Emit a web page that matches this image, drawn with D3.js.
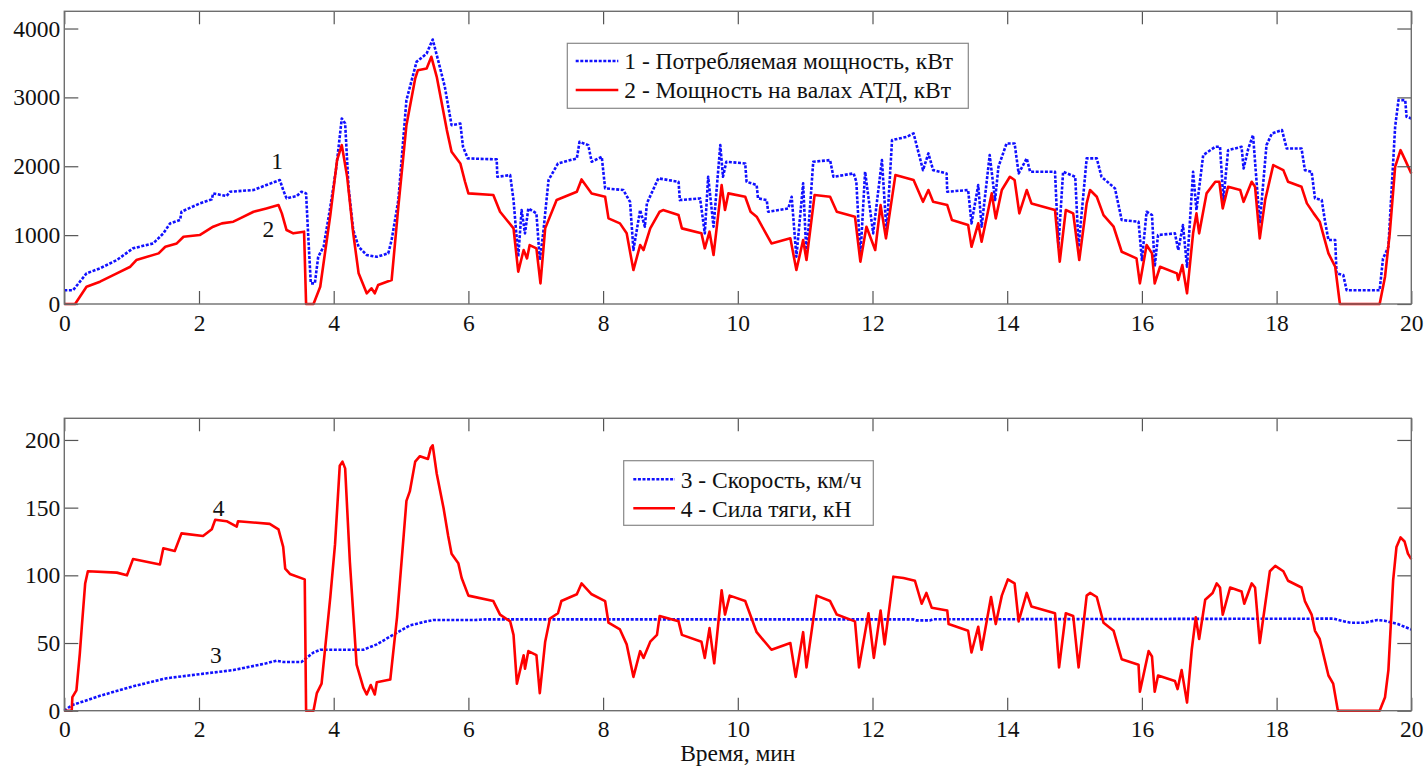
<!DOCTYPE html>
<html>
<head>
<meta charset="utf-8">
<script src="https://cdn.jsdelivr.net/npm/d3@7"></script>
<style>
  html, body { margin: 0; padding: 0; background: #fff; }
  svg { display: block; }
  text { font-family: "Liberation Serif", "Times New Roman", Tinos, "DejaVu Serif", serif; fill: #111; }
</style>
</head>
<body>
<script>
'use strict';

// time axis, minutes
var timeTicks = [0, 2, 4, 6, 8, 10, 12, 14, 16, 18, 20];
var powerTicks = [0, 1000, 2000, 3000, 4000];
var forceTicks = [0, 50, 100, 150, 200];

// 1 - consumed power, kW
var t1 = [0, 0.13, 0.33, 0.53, 0.78, 1.02, 1.32, 1.47, 1.57, 1.72, 1.74, 2.01, 2.19, 2.21, 2.41, 2.46, 2.81, 3.00, 3.20, 3.25, 3.30, 3.45, 3.52, 3.59, 3.62, 3.66, 3.72, 3.77, 3.85, 3.95, 4.04, 4.12, 4.17, 4.22, 4.29, 4.37, 4.49, 4.64, 4.81, 4.86, 4.96, 5.08, 5.23, 5.38, 5.47, 5.55, 5.65, 5.75, 5.88, 5.92, 5.99, 6.42, 6.43, 6.62, 6.67, 6.74, 6.79, 6.84, 6.89, 7.01, 7.06, 7.11, 7.19, 7.33, 7.61, 7.65, 7.78, 7.83, 7.98, 8.03, 8.30, 8.40, 8.45, 8.55, 8.62, 8.65, 8.82, 9.12, 9.14, 9.44, 9.51, 9.56, 9.64, 9.74, 9.78, 9.83, 10.11, 10.13, 10.28, 10.30, 10.43, 10.45, 10.75, 10.80, 10.87, 10.97, 11.02, 11.12, 11.37, 11.42, 11.72, 11.76, 11.82, 11.89, 12.01, 12.14, 12.21, 12.29, 12.51, 12.61, 12.75, 12.83, 12.90, 13.10, 13.11, 13.42, 13.47, 13.57, 13.62, 13.74, 13.82, 13.87, 13.99, 14.11, 14.17, 14.29, 14.34, 14.71, 14.76, 14.83, 15.01, 15.06, 15.18, 15.33, 15.40, 15.60, 15.70, 15.95, 16.00, 16.07, 16.15, 16.19, 16.24, 16.49, 16.54, 16.61, 16.67, 16.76, 16.81, 16.91, 17.09, 17.16, 17.21, 17.28, 17.48, 17.51, 17.58, 17.65, 17.75, 17.85, 17.93, 18.08, 18.15, 18.37, 18.42, 18.52, 18.57, 18.67, 18.72, 18.77, 18.87, 18.89, 18.99, 19.04, 19.53, 19.58, 19.66, 19.71, 19.76, 19.81, 19.91, 19.93, 20.00];
var p1 = [200, 200, 445, 518, 638, 808, 880, 1025, 1170, 1220, 1340, 1460, 1519, 1606, 1567, 1630, 1655, 1727, 1800, 1655, 1534, 1567, 1630, 1606, 1026, 300, 300, 686, 831, 1412, 1992, 2694, 2622, 1702, 1074, 831, 711, 686, 735, 929, 1509, 2960, 3516, 3637, 3840, 3540, 3153, 2597, 2620, 2282, 2114, 2100, 1847, 1872, 1509, 686, 1364, 1025, 1388, 1316, 638, 1025, 1800, 2041, 2114, 2355, 2307, 2065, 2137, 1679, 1655, 1484, 784, 1364, 1122, 1461, 1824, 1775, 1509, 1533, 1026, 1847, 1122, 2307, 1847, 2065, 2041, 1775, 1727, 1534, 1509, 1340, 1388, 1557, 686, 1751, 686, 2065, 2090, 1847, 1896, 1775, 686, 1920, 1026, 2089, 1026, 2380, 2428, 2477, 1944, 2186, 1944, 1896, 1630, 1655, 1171, 1727, 1122, 2162, 1509, 1992, 2331, 2331, 1896, 2114, 1920, 1920, 831, 1920, 1847, 831, 2114, 2114, 1847, 1679, 1219, 1195, 638, 1340, 1292, 541, 1001, 1026, 784, 1146, 541, 1920, 1364, 2162, 2283, 2283, 1509, 2234, 2283, 1968, 2258, 2452, 1171, 2307, 2476, 2525, 2258, 2258, 1944, 1920, 1534, 1509, 1195, 929, 929, 444, 420, 200, 200, 660, 831, 1702, 2573, 2960, 2960, 2718, 2694];

// 2 - shaft power of traction motors, kW
var t2 = [0, 0.16, 0.33, 0.53, 0.78, 0.98, 1.07, 1.40, 1.50, 1.67, 1.77, 2.01, 2.21, 2.34, 2.51, 2.61, 2.81, 3.00, 3.18, 3.23, 3.30, 3.40, 3.56, 3.59, 3.70, 3.80, 3.95, 4.05, 4.12, 4.20, 4.29, 4.37, 4.49, 4.56, 4.61, 4.66, 4.86, 4.96, 5.08, 5.21, 5.25, 5.38, 5.45, 5.53, 5.68, 5.75, 5.88, 5.95, 6.00, 6.37, 6.47, 6.67, 6.74, 6.82, 6.87, 6.91, 7.01, 7.07, 7.14, 7.31, 7.61, 7.68, 7.83, 8.03, 8.08, 8.25, 8.35, 8.45, 8.55, 8.60, 8.70, 8.84, 8.89, 9.12, 9.17, 9.46, 9.51, 9.58, 9.64, 9.76, 9.81, 9.86, 10.11, 10.19, 10.28, 10.50, 10.78, 10.87, 10.97, 11.02, 11.14, 11.37, 11.47, 11.74, 11.82, 11.91, 12.04, 12.12, 12.20, 12.34, 12.61, 12.75, 12.83, 12.90, 13.11, 13.18, 13.42, 13.47, 13.57, 13.62, 13.77, 13.83, 13.92, 14.04, 14.11, 14.18, 14.29, 14.36, 14.71, 14.78, 14.87, 14.98, 15.07, 15.18, 15.23, 15.33, 15.43, 15.58, 15.70, 15.92, 15.97, 16.07, 16.15, 16.19, 16.27, 16.52, 16.54, 16.60, 16.67, 16.76, 16.81, 16.85, 16.96, 17.09, 17.15, 17.20, 17.28, 17.46, 17.51, 17.63, 17.68, 17.75, 17.83, 17.95, 18.10, 18.17, 18.37, 18.45, 18.55, 18.64, 18.77, 18.87, 18.94, 19.53, 19.61, 19.68, 19.76, 19.84, 19.91, 20.00];
var p2 = [0, 0, 251, 324, 445, 541, 638, 735, 831, 880, 977, 1001, 1122, 1171, 1195, 1243, 1340, 1388, 1437, 1316, 1074, 1026, 1050, 0, 0, 251, 1291, 2089, 2307, 1847, 1026, 445, 155, 228, 155, 276, 348, 1412, 2597, 3274, 3395, 3419, 3589, 3298, 2525, 2210, 2041, 1775, 1606, 1582, 1340, 1098, 469, 784, 662, 856, 808, 300, 1098, 1509, 1630, 1809, 1606, 1557, 1243, 1171, 1026, 493, 856, 784, 1098, 1340, 1364, 1291, 1098, 1026, 808, 1050, 711, 1727, 1364, 1606, 1557, 1340, 1267, 880, 953, 493, 929, 638, 1582, 1557, 1340, 1267, 614, 1122, 784, 1436, 953, 1872, 1800, 1484, 1655, 1484, 1437, 1219, 1146, 831, 1171, 905, 1606, 1243, 1655, 1847, 1800, 1316, 1655, 1461, 1364, 614, 1364, 1316, 638, 1461, 1655, 1557, 1291, 1122, 759, 662, 300, 856, 735, 300, 541, 445, 348, 565, 155, 1026, 1316, 1026, 1606, 1775, 1775, 1388, 1702, 1655, 1484, 1775, 1702, 953, 1509, 2017, 1944, 1775, 1702, 1461, 1316, 1195, 735, 541, 0, 0, 396, 1026, 1992, 2234, 2089, 1896];

// 3 - speed, km/h
var t3 = [0, 0.11, 0.53, 1.02, 1.52, 2.01, 2.51, 3.00, 3.15, 3.25, 3.52, 3.70, 3.80, 4.44, 4.64, 4.88, 5.13, 5.38, 5.48, 6.10, 6.25, 12.60, 12.65, 12.85, 12.90, 18.85, 19.00, 19.10, 19.30, 19.50, 19.60, 19.80, 20.00];
var v3 = [0, 4, 11, 18, 24, 27, 30, 35, 37, 36, 36, 43, 45, 45, 49, 56, 63, 66, 67, 67, 67.5, 67.5, 66.7, 66.7, 67.5, 68, 66, 65, 65, 67, 66.5, 64, 60];

// 4 - traction force, kN
var t4 = [0, 0.11, 0.12, 0.18, 0.23, 0.26, 0.31, 0.35, 0.78, 0.93, 1.02, 1.42, 1.47, 1.64, 1.74, 2.06, 2.19, 2.24, 2.41, 2.56, 2.58, 3.05, 3.18, 3.25, 3.28, 3.35, 3.57, 3.59, 3.70, 3.75, 3.82, 3.95, 4.02, 4.09, 4.13, 4.17, 4.24, 4.34, 4.44, 4.49, 4.55, 4.61, 4.64, 4.84, 4.94, 5.04, 5.08, 5.13, 5.21, 5.28, 5.40, 5.44, 5.47, 5.53, 5.63, 5.70, 5.75, 5.85, 5.90, 6.00, 6.37, 6.47, 6.62, 6.67, 6.72, 6.82, 6.84, 6.89, 7.01, 7.06, 7.14, 7.21, 7.33, 7.38, 7.61, 7.68, 7.83, 8.03, 8.08, 8.25, 8.35, 8.45, 8.55, 8.60, 8.70, 8.80, 8.84, 9.12, 9.17, 9.46, 9.51, 9.58, 9.65, 9.76, 9.81, 9.88, 10.11, 10.28, 10.50, 10.78, 10.86, 10.97, 11.02, 11.17, 11.37, 11.47, 11.74, 11.80, 11.94, 12.02, 12.12, 12.18, 12.31, 12.46, 12.63, 12.73, 12.80, 12.88, 13.11, 13.13, 13.42, 13.47, 13.57, 13.62, 13.76, 13.83, 13.92, 14.01, 14.11, 14.17, 14.29, 14.36, 14.71, 14.77, 14.87, 14.98, 15.06, 15.18, 15.23, 15.33, 15.43, 15.58, 15.70, 15.95, 15.97, 16.10, 16.15, 16.19, 16.24, 16.49, 16.53, 16.59, 16.67, 16.74, 16.80, 16.85, 16.94, 17.05, 17.11, 17.16, 17.20, 17.31, 17.48, 17.52, 17.63, 17.68, 17.75, 17.90, 17.98, 18.10, 18.17, 18.37, 18.42, 18.52, 18.57, 18.64, 18.77, 18.84, 18.91, 19.53, 19.61, 19.66, 19.73, 19.78, 19.84, 19.90, 19.95, 20.00];
var f4 = [0, 0, 10, 15, 42, 62, 94, 103, 102, 100, 112, 108, 120, 118, 131, 129, 134, 141, 140, 136, 140, 138, 134, 121, 105, 101, 97, 0, 0, 13, 20, 84, 123, 181, 184, 179, 110, 34, 17, 12, 19, 12, 21, 23, 69, 130, 155, 162, 184, 188, 186, 194, 196, 175, 150, 129, 116, 109, 98, 85, 81, 71, 66, 56, 20, 41, 31, 44, 41, 13, 51, 68, 72, 81, 86, 94, 86, 81, 65, 60, 49, 25, 44, 39, 51, 56, 70, 66, 56, 51, 39, 61, 35, 89, 71, 85, 81, 58, 45, 50, 25, 58, 32, 85, 81, 71, 66, 32, 72, 39, 74, 49, 99, 98, 96, 79, 87, 76, 74, 64, 59, 43, 62, 45, 84, 64, 85, 97, 94, 66, 87, 77, 72, 32, 72, 70, 32, 85, 87, 84, 65, 59, 38, 34, 14, 44, 40, 14, 26, 22, 16, 30, 6, 45, 69, 53, 82, 87, 94, 91, 71, 91, 88, 79, 94, 91, 50, 103, 107, 103, 96, 91, 81, 71, 59, 53, 26, 20, 0, 0, 10, 30, 96, 121, 128, 125, 116, 112];

var legendTop = ['1 - Потребляемая мощность, кВт', '2 - Мощность на валах АТД, кВт'];
var legendBottom = ['3 - Скорость, км/ч', '4 - Сила тяги, кН'];

var FONT = '"Liberation Serif", "Times New Roman", Tinos, "DejaVu Serif", serif';
var BLUE = '#1010ff', RED = '#ff0000', FRAME = '#6e6e6e';
var W = 1426, H = 767;
var left = 64.3, right = 1411.3;

var svg = d3.select('body').append('svg').attr('width', W).attr('height', H)
  .attr('font-family', FONT);

var x = d3.scaleLinear().domain([0, 20]).range([left, right]);

function zip(ts, vs) {
  return ts.map(function(t, i){ return [t, vs[i]]; });
}

function panel(top, bottom, ymax, yticks, series) {
  var y = d3.scaleLinear().domain([0, ymax]).range([bottom, top]);
  var g = svg.append('g');

  var line = d3.line().x(function(d){ return x(d[0]); }).y(function(d){ return y(d[1]); });

  series.forEach(function(s){
    g.append('path')
      .datum(s.data)
      .attr('fill', 'none')
      .attr('stroke', s.color)
      .attr('stroke-width', 2.6)
      .attr('stroke-dasharray', s.dash ? '3,1.6' : null)
      .attr('stroke-linejoin', 'round')
      .attr('d', line);
  });

  // inward ticks on all four sides
  g.append('g').attr('transform', 'translate(0,' + bottom + ')')
    .call(d3.axisBottom(x).tickValues(timeTicks).tickSize(-13).tickSizeOuter(0).tickPadding(10).tickFormat(d3.format('d')));
  g.append('g').attr('transform', 'translate(0,' + top + ')')
    .call(d3.axisTop(x).tickValues(timeTicks).tickSize(-13).tickSizeOuter(0).tickFormat(''));
  g.append('g').attr('transform', 'translate(' + left + ',0)')
    .call(d3.axisLeft(y).tickValues(yticks).tickSize(-14).tickSizeOuter(0).tickPadding(4).tickFormat(d3.format('d')));
  g.append('g').attr('transform', 'translate(' + right + ',0)')
    .call(d3.axisRight(y).tickValues(yticks).tickSize(-14).tickSizeOuter(0).tickFormat(''));

  g.selectAll('.domain').remove();
  g.selectAll('g').attr('font-family', null).attr('font-size', null);
  g.selectAll('.tick line').attr('stroke', '#555').attr('stroke-width', 1.2);
  g.selectAll('.tick text').attr('font-size', 23.5).attr('fill', '#111');

  g.append('rect')
    .attr('x', left).attr('y', top)
    .attr('width', right - left).attr('height', bottom - top)
    .attr('fill', 'none').attr('stroke', FRAME).attr('stroke-width', 1.4);

  return y;
}

function legend(bx, by, bw, bh, rows, lineX0, lineX1, textX, rowY) {
  var g = svg.append('g');
  g.append('rect').attr('x', bx).attr('y', by).attr('width', bw).attr('height', bh)
    .attr('fill', '#fff').attr('stroke', '#888').attr('stroke-width', 1.2);
  rows.forEach(function(r, i){
    g.append('line')
      .attr('x1', lineX0).attr('x2', lineX1).attr('y1', rowY[i]).attr('y2', rowY[i])
      .attr('stroke', r.color).attr('stroke-width', 2.6)
      .attr('stroke-dasharray', r.dash ? '3,1.6' : null);
    g.append('text').attr('x', textX).attr('y', rowY[i]).attr('dy', '0.35em')
      .attr('font-size', 23.5).text(r.label);
  });
}

function label(yScale, t, v, s) {
  svg.append('text').attr('x', x(t)).attr('y', yScale(v)).attr('dy', '0.35em')
    .attr('text-anchor', 'middle').attr('font-size', 23.5).text(s);
}

// upper panel: power
var yTop = panel(11.3, 304, 4250, powerTicks, [
  {data: zip(t1, p1), color: BLUE, dash: true},
  {data: zip(t2, p2), color: RED, dash: false}
]);
legend(567.3, 43.3, 401, 65, [
  {label: legendTop[0], color: BLUE, dash: true},
  {label: legendTop[1], color: RED, dash: false}
], 575.7, 618.3, 624.3, [61, 90]);
label(yTop, 3.16, 2075, '1');
label(yTop, 3.03, 1098, '2');

// lower panel: speed and traction force
var yBot = panel(418.3, 710.7, 216, forceTicks, [
  {data: zip(t3, v3), color: BLUE, dash: true},
  {data: zip(t4, f4), color: RED, dash: false}
]);
legend(623.7, 460.7, 249.6, 64.6, [
  {label: legendBottom[0], color: BLUE, dash: true},
  {label: legendBottom[1], color: RED, dash: false}
], 633.3, 675, 680.7, [479.3, 508.3]);
label(yBot, 2.29, 150, '4');
label(yBot, 2.25, 41, '3');

svg.append('text').attr('x', (left + right) / 2).attr('y', 753).attr('dy', '0.35em')
  .attr('text-anchor', 'middle').attr('font-size', 23.5).text('Время, мин');
</script>
</body>
</html>
